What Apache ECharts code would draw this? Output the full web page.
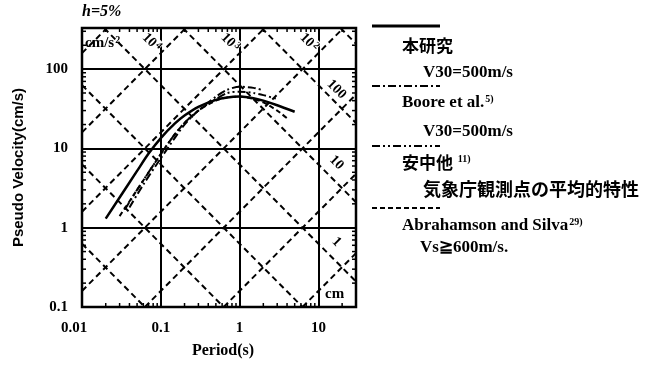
<!DOCTYPE html>
<html>
<head>
<meta charset="utf-8">
<script src="https://cdn.jsdelivr.net/npm/echarts@6/dist/echarts.min.js"></script>
<style>
  html, body { margin: 0; padding: 0; background: #fff; }
  #chart { width: 650px; height: 371px; }
</style>
</head>
<body>
<div id="chart"></div>
<script>
// periods (s) / pseudo velocity (cm/s)
const thisStudyT  = [0.02, 0.03, 0.05, 0.07, 0.1, 0.15, 0.2, 0.3, 0.5, 0.7, 1, 1.5, 2, 3, 5];
const thisStudySv = [1.3, 2.4, 5.2, 8.6, 13.5, 20.5, 26, 33.5, 41, 44, 45, 43, 40, 35, 29];

const booreT  = [0.04, 0.06, 0.1, 0.15, 0.2, 0.3, 0.5, 0.7, 1, 1.5, 2];
const booreSv = [1.8, 3.5, 7.5, 13.5, 20, 30, 45, 55, 60, 58, 54];

const annakaT  = [0.035, 0.05, 0.07, 0.1, 0.15, 0.2, 0.3, 0.5, 0.7, 1, 1.5, 2, 3];
const annakaSv = [1.7, 3, 5, 8.5, 15, 21, 30, 42, 50, 52, 50, 47, 42];

const asT  = [0.03, 0.05, 0.1, 0.15, 0.2, 0.3, 0.5, 0.7, 1, 1.5, 2, 3, 4];
const asSv = [1.4, 3, 8.5, 15, 21, 30, 40, 44, 45, 42, 38, 30, 24];

// tripartite guide lines
const accelLines = [0.1, 1, 10, 100, 1000, 10000, 100000];   // cm/s2
const dispLines  = [0.001, 0.01, 0.1, 1, 10, 100, 1000];     // cm
const accelLabels = [['10', '4', 10000], ['10', '3', 1000], ['10', '2', 100]];
const dispLabels  = [['100', 100], ['10', 10], ['1', 1]];

const xMin = 0.01, xMax = 30, yMin = 0.1, yMax = 330;

const zip = (a, b) => a.map((v, i) => [v, b[i]]);

// clip Sv = k * T^s to the plot box
function segment(k, s) {
  let t0 = xMin, t1 = xMax;
  const ta = Math.pow(yMin / k, 1 / s), tb = Math.pow(yMax / k, 1 / s);
  t0 = Math.max(t0, Math.min(ta, tb));
  t1 = Math.min(t1, Math.max(ta, tb));
  if (t0 >= t1) return null;
  return [[t0, k * Math.pow(t0, s)], [t1, k * Math.pow(t1, s)]];
}

const guideSeries = [];
accelLines.forEach(a => {
  const seg = segment(a / (2 * Math.PI), 1);
  if (seg) guideSeries.push(seg);
});
dispLines.forEach(d => {
  const seg = segment(2 * Math.PI * d, -1);
  if (seg) guideSeries.push(seg);
});

const minorX = [], minorY = [];
for (let e = -2; e <= 1; e++) for (let m = 2; m <= 9; m++) {
  const v = m * Math.pow(10, e);
  if (v < xMax) minorX.push([v, yMin]);
}
for (let e = -1; e <= 2; e++) for (let m = 2; m <= 9; m++) {
  const v = m * Math.pow(10, e);
  if (v < yMax) minorY.push([xMin, v]);
}

const serif = 'Liberation Serif';
const isDecade = v => Math.abs(Math.log10(v) - Math.round(Math.log10(v))) < 1e-6;
const fmt = v => String(Number(v.toPrecision(3)));

const chart = echarts.init(document.getElementById('chart'));

const lineBase = { type: 'line', showSymbol: false, symbol: 'none', animation: false, silent: true, smooth: 0.25 };

chart.setOption({
  animation: false,
  grid: { left: 82, top: 28, width: 274, height: 279, show: true, borderColor: '#000', borderWidth: 2.5, backgroundColor: 'transparent' },
  xAxis: {
    type: 'log', min: xMin, max: xMax, logBase: 10,
    axisLine: { show: false }, axisTick: { show: false },
    splitLine: { show: true, lineStyle: { color: '#000', width: 2 } },
    axisLabel: {
      margin: 14, color: '#000', fontFamily: serif, fontWeight: 'bold', fontSize: 15,
      showMaxLabel: false,
      formatter: v => !isDecade(v) ? '' : (v < 0.05 ? '{s|' + fmt(v) + '}' : fmt(v)),
      rich: { s: { padding: [0, 16, 0, 0], color: '#000', fontFamily: serif, fontWeight: 'bold', fontSize: 15 } }
    },
    name: 'Period(s)', nameLocation: 'middle', nameGap: 36,
    nameTextStyle: { color: '#000', fontFamily: serif, fontWeight: 'bold', fontSize: 16, padding: [0, 0, 0, 8] }
  },
  yAxis: {
    type: 'log', min: yMin, max: yMax, logBase: 10,
    axisLine: { show: false }, axisTick: { show: false },
    splitLine: { show: true, lineStyle: { color: '#000', width: 2 } },
    axisLabel: {
      margin: 14, color: '#000', fontFamily: serif, fontWeight: 'bold', fontSize: 15,
      showMaxLabel: false,
      formatter: v => isDecade(v) ? fmt(v) : ''
    },
    name: 'Pseudo Velocity(cm/s)', nameLocation: 'middle', nameGap: 56,
    nameTextStyle: { color: '#000', fontFamily: 'Liberation Sans', fontWeight: 'bold', fontSize: 15 }
  },
  series: [
    ...guideSeries.map(seg => Object.assign({}, lineBase, {
      data: seg, z: 1, smooth: false,
      lineStyle: { color: '#000', width: 2, type: [6, 4] }
    })),
    {
      type: 'custom', silent: true, z: 3, data: minorX,
      renderItem: (params, api) => {
        const t = api.value(0);
        const b = api.coord([t, yMin]), u = api.coord([t, yMax]);
        return { type: 'group', children: [
          { type: 'line', shape: { x1: b[0], y1: b[1], x2: b[0], y2: b[1] - 4 }, style: { stroke: '#000', lineWidth: 1.5 } },
          { type: 'line', shape: { x1: u[0], y1: u[1], x2: u[0], y2: u[1] + 4 }, style: { stroke: '#000', lineWidth: 1.5 } }
        ] };
      }
    },
    {
      type: 'custom', silent: true, z: 3, data: minorY,
      renderItem: (params, api) => {
        const v = api.value(1);
        const l = api.coord([xMin, v]), r = api.coord([xMax, v]);
        return { type: 'group', children: [
          { type: 'line', shape: { x1: l[0], y1: l[1], x2: l[0] + 4, y2: l[1] }, style: { stroke: '#000', lineWidth: 1.5 } },
          { type: 'line', shape: { x1: r[0], y1: r[1], x2: r[0] - 4, y2: r[1] }, style: { stroke: '#000', lineWidth: 1.5 } }
        ] };
      }
    },
    Object.assign({}, lineBase, { name: '本研究', data: zip(thisStudyT, thisStudySv), z: 5,
      lineStyle: { color: '#000', width: 2.5 } }),
    Object.assign({}, lineBase, { name: 'Boore', data: zip(booreT, booreSv), z: 4,
      lineStyle: { color: '#000', width: 2, type: [8, 3, 2, 3] } }),
    Object.assign({}, lineBase, { name: '安中', data: zip(annakaT, annakaSv), z: 4,
      lineStyle: { color: '#000', width: 2, type: [8, 3, 2, 3, 2, 3] } }),
    Object.assign({}, lineBase, { name: 'A&S', data: zip(asT, asSv), z: 4,
      lineStyle: { color: '#000', width: 2, type: [5, 3] } })
  ]
});

// labels of the guide lines + text + legend
const graphic = [];
const txt = (x, y, text, font, extra) => Object.assign({
  type: 'text', x: x, y: y, silent: true,
  style: Object.assign({ text: text, fill: '#000', font: font, textAlign: 'left', textVerticalAlign: 'middle' }, extra || {})
});
const sup = { font: 'bold 10px "Liberation Serif"', verticalAlign: 'top', padding: [0, 0, 6, 1] };

accelLabels.forEach(([base, exp, a]) => {
  const p = chart.convertToPixel({ gridIndex: 0 }, [2 * Math.PI * 230 / a, 230]);
  graphic.push(Object.assign(txt(p[0] - 22, p[1] + 2, '', '', {
    text: '{a|' + base + '}{b|' + exp + '}', textAlign: 'center', backgroundColor: '#fff',
    rich: { a: { font: 'bold 14px "Liberation Serif"' }, b: sup }
  }), { rotation: -Math.PI / 4 }));
});
dispLabels.forEach(([t, d]) => {
  const T = 17;
  const p = chart.convertToPixel({ gridIndex: 0 }, [T, 2 * Math.PI * d / T]);
  graphic.push(Object.assign(txt(p[0], p[1] - (d === 100 ? 14 : 20), t, 'bold 14px "Liberation Serif"',
    { textAlign: 'center', backgroundColor: '#fff' }), { rotation: -Math.PI / 4 }));
});

graphic.push(txt(82, 12, 'h=5%', 'italic bold 16px "Liberation Serif"'));
graphic.push(txt(85, 43, '', '', {
  text: '{a|cm/s}{b|2}', backgroundColor: '#fff',
  rich: { a: { font: 'bold 15px "Liberation Serif"' }, b: sup }
}));
graphic.push(txt(325, 294, 'cm', 'bold 15px "Liberation Serif"', { backgroundColor: '#fff' }));

// legend
const legendX1 = 372, legendX2 = 440;
const legendRows = [
  { y: 26, dash: null, w: 3 },
  { y: 86, dash: [8, 3, 2, 3], w: 2 },
  { y: 146, dash: [8, 3, 2, 3, 2, 3], w: 2 },
  { y: 208, dash: [5, 3], w: 2 }
];
legendRows.forEach(r => graphic.push({
  type: 'line', silent: true,
  shape: { x1: legendX1, y1: r.y, x2: legendX2, y2: r.y },
  style: { stroke: '#000', lineWidth: r.w, lineDash: r.dash }
}));
const sf = 'bold 17px "Liberation Serif"';
const cjk = 'bold 17px "Noto Sans CJK JP"';
const cjkWide = 'bold 18px "Noto Sans CJK JP"';
graphic.push(txt(402, 46, '本研究', cjk));
graphic.push(txt(423, 73, 'V30=500m/s', sf));
graphic.push(txt(402, 103, '', '', { text: '{a|Boore et al.}{b|5)}', rich: { a: { font: sf }, b: sup } }));
graphic.push(txt(423, 132, 'V30=500m/s', sf));
graphic.push(txt(402, 163, '', '', { text: '{a|安中他 }{b|11)}', rich: { a: { font: cjk }, b: sup } }));
graphic.push(txt(423, 189, '気象庁観測点の平均的特性', cjkWide));
graphic.push(txt(402, 226, '', '', { text: '{a|Abrahamson and Silva}{b|29)}', rich: { a: { font: sf }, b: sup } }));
graphic.push(txt(420, 248, 'Vs≧600m/s.', sf));

chart.setOption({ graphic: graphic });
</script>
</body>
</html>
